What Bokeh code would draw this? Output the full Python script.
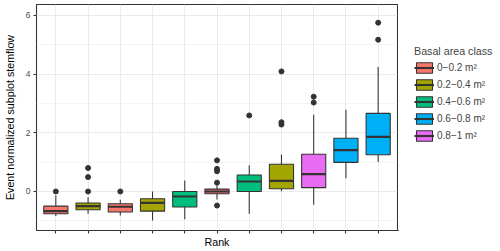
from bokeh.plotting import figure
from bokeh.layouts import row
from bokeh.models import (Range1d, FixedTicker, Legend, LegendItem, ColumnDataSource)
from bokeh.embed import file_html
from bokeh.resources import INLINE

# ---- data ----
rank = [1, 2, 3, 4, 5, 6, 7, 8, 9, 10, 11]
box_class = [0, 1, 0, 1, 2, 0, 2, 1, 4, 3, 3]
lower = [-0.84, -0.76, -0.82, -0.99, -0.95, -0.27, -0.76, 0.01, -0.45, 0.45, 1.00]
q1 = [-0.76, -0.62, -0.70, -0.67, -0.53, -0.08, 0.00, 0.09, 0.13, 0.99, 1.25]
median = [-0.67, -0.50, -0.52, -0.39, -0.17, 0.00, 0.34, 0.36, 0.59, 1.41, 1.86]
q3 = [-0.50, -0.39, -0.42, -0.25, 0.00, 0.08, 0.56, 0.93, 1.27, 1.81, 2.66]
upper = [-0.14, -0.20, -0.28, 0.00, 0.37, 0.20, 0.89, 1.26, 2.61, 2.78, 4.24]
outliers = [[0.0], [0.0, 0.49, 0.80], [0.0], [], [], [1.06, 0.77, 0.69, 0.30, -0.48],
            [2.59], [4.09, 2.36, 2.28], [3.23, 3.03], [], [5.75, 5.17]]
class_labels = ["0\u22120.2 m\u00b2", "0.2\u22120.4 m\u00b2", "0.4\u22120.6 m\u00b2",
                "0.6\u22120.8 m\u00b2", "0.8\u22121 m\u00b2"]
class_colors = ["#F8766D", "#A3A500", "#00BF7D", "#00B0F6", "#E76BF3"]
y_ticks = [0, 2, 4, 6]
y_minor = [-1, 1, 3, 5]

BOX_W = 0.75
FONT = "Liberation Sans"
DARK = "#333333"

src = ColumnDataSource(dict(
    x=rank, q1=q1, q3=q3, med=median, lo=lower, hi=upper,
    x0=[r - BOX_W / 2 for r in rank], x1=[r + BOX_W / 2 for r in rank],
    color=[class_colors[c] for c in box_class],
))
ox, oy = [], []
for r, outs in zip(rank, outliers):
    for v in outs:
        ox.append(r)
        oy.append(v)

p = figure(width=398, height=251, output_backend="svg", toolbar_location=None,
           x_range=Range1d(0.4, 11.6), y_range=Range1d(-1.33, 6.37),
           min_border_left=31, min_border_right=1, min_border_top=4, min_border_bottom=21)
p.background_fill_color = "white"
p.border_fill_color = "white"
p.outline_line_color = DARK
p.outline_line_width = 1.07

# grids
p.xgrid.grid_line_color = "#EBEBEB"
p.xgrid.grid_line_width = 1.07
p.ygrid.grid_line_color = "#EBEBEB"
p.ygrid.grid_line_width = 1.07
p.ygrid.minor_grid_line_color = "#EBEBEB"
p.ygrid.minor_grid_line_width = 0.53

# axes
p.xaxis.ticker = FixedTicker(ticks=rank)
p.xaxis.major_label_overrides = {r: "" for r in rank}
p.xaxis.major_label_text_font_size = "8px"
p.xaxis.major_label_standoff = 0
p.yaxis.ticker = FixedTicker(ticks=y_ticks, minor_ticks=y_minor)
for ax in (p.xaxis[0], p.yaxis[0]):
    ax.axis_line_color = None
    ax.major_tick_line_color = DARK
    ax.major_tick_line_width = 1.07
    ax.major_tick_out = 3
    ax.major_tick_in = 0
    ax.minor_tick_line_color = None
    ax.major_label_text_color = "#4D4D4D"
    ax.major_label_text_font = FONT
    ax.axis_label_text_font = FONT
    ax.axis_label_text_font_style = "normal"
    ax.axis_label_text_font_size = "10.7px"
    ax.axis_label_text_color = "black"
p.yaxis.major_label_text_font_size = "8.5px"
p.yaxis.major_label_standoff = 2
p.yaxis.axis_label = "Event normalized subplot stemflow"
p.yaxis.axis_label_standoff = 7
p.xaxis.axis_label = "Rank"
p.xaxis.axis_label_standoff = 2

# whiskers
p.segment(x0="x", x1="x", y0="q3", y1="hi", source=src, line_color=DARK, line_width=1.07)
p.segment(x0="x", x1="x", y0="lo", y1="q1", source=src, line_color=DARK, line_width=1.07)
# boxes
p.vbar(x="x", width=BOX_W, bottom="q1", top="q3", source=src,
       fill_color="color", line_color=DARK, line_width=1.07)
p.segment(x0="x0", x1="x1", y0="med", y1="med", source=src,
          line_color=DARK, line_width=2.1)
# outliers
p.scatter(ox, oy, size=5, color=DARK)

# ---- legend panel (separate figure on the right) ----
lp = figure(width=102, height=251, output_backend="svg", toolbar_location=None,
            x_range=Range1d(0, 1), y_range=Range1d(0, 1),
            x_axis_location=None, y_axis_location=None, min_border=0)
lp.outline_line_color = None
lp.grid.visible = False
leg_src = ColumnDataSource(dict(x=[-5] * len(class_colors), color=class_colors))
lb = lp.vbar(x="x", width=0.5, bottom=-3, top=-2, source=leg_src,
             fill_color="color", line_color=DARK, line_width=1.07)
lm = lp.segment(x0="x", x1="x", y0=-3, y1=-2, source=leg_src, line_color=DARK, line_width=2.1)
items = [LegendItem(label=lab, renderers=[lb, lm], index=i) for i, lab in enumerate(class_labels)]
legend = Legend(items=items, location=(16, 88), title="Basal area class",
                title_text_font=FONT, title_text_font_size="10.7px", title_text_font_style="normal",
                title_standoff=4,
                label_text_font=FONT, label_text_font_size="10px", label_standoff=3,
                glyph_width=20, glyph_height=13, label_height=13, spacing=4,
                padding=0, margin=0, border_line_color=None, background_fill_alpha=0)
lp.add_layout(legend, "center")

layout = row(p, lp, spacing=0)
open("out.html", "w").write(file_html(layout, INLINE))
